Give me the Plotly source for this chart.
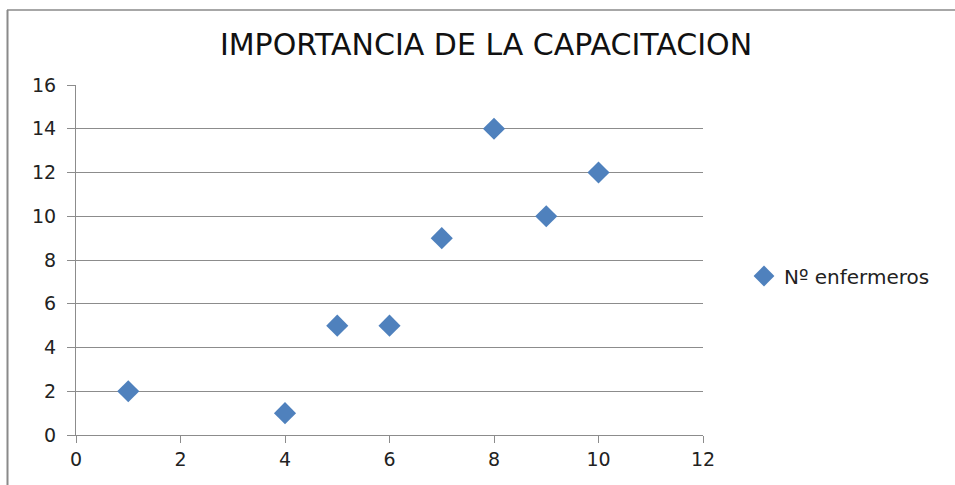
import plotly.graph_objects as go

# Capacitación: puntuación (x) vs número de enfermeros (y)
x_vals = [1, 4, 5, 6, 7, 8, 9, 10]
y_vals = [2, 1, 5, 5, 9, 14, 10, 12]
series_name = "Nº enfermeros"
title_text = "IMPORTANCIA DE LA CAPACITACION"

x_ticks = [0, 2, 4, 6, 8, 10, 12]
y_ticks = [0, 2, 4, 6, 8, 10, 12, 14, 16]

L, R, T, B = 76, 252, 85, 50
W, H = 955, 485
pw, ph = W - L - R, H - T - B

def px_x(p):
    return (p - L) / pw

def px_y(p):
    return (H - B - p) / ph

grid = "#8c8c8c"
text_font = "DejaVu Sans, Verdana, sans-serif"
tick_font = dict(family=text_font, size=19, color="#222")

fig = go.Figure()
fig.add_trace(go.Scatter(
    x=x_vals, y=y_vals, mode="markers", name=series_name,
    marker=dict(symbol="diamond", size=17, color="#4F81BD",
                line=dict(width=0)),
))

fig.update_layout(
    width=W, height=H,
    margin=dict(l=L, r=R, t=T, b=B),
    paper_bgcolor="white", plot_bgcolor="white",
    title=dict(text=title_text, xref="paper", x=px_x(486), xanchor="center",
               yref="container", y=1 - 44 / H, yanchor="middle",
               font=dict(family=text_font, size=30, color="#111")),
    showlegend=True,
    legend=dict(x=px_x(744), xanchor="left", y=px_y(276), yanchor="middle",
                font=dict(family=text_font, size=20, color="#222"),
                bgcolor="rgba(0,0,0,0)"),
    xaxis=dict(range=[0, 12], tickvals=x_ticks, showgrid=False,
               zeroline=False, showline=True, linecolor=grid, linewidth=1,
               ticks="outside", ticklen=7, tickcolor=grid,
               tickfont=tick_font, fixedrange=True),
    yaxis=dict(range=[0, 16], tickvals=y_ticks, showgrid=True,
               gridcolor=grid, gridwidth=1, zeroline=False, showline=True,
               linecolor=grid, linewidth=1, ticks="outside", ticklen=8,
               tickcolor=grid, tickfont=tick_font, ticklabelstandoff=7,
               fixedrange=True),
    shapes=[
        dict(type="line", xref="paper", yref="paper",
             x0=px_x(7), x1=px_x(W + 5), y0=px_y(10), y1=px_y(10),
             line=dict(color="#8a8a8a", width=1.5)),
        dict(type="line", xref="paper", yref="paper",
             x0=px_x(7.5), x1=px_x(7.5), y0=px_y(10), y1=px_y(H + 5),
             line=dict(color="#8a8a8a", width=2)),
    ],
)

fig.write_html("out.html")
